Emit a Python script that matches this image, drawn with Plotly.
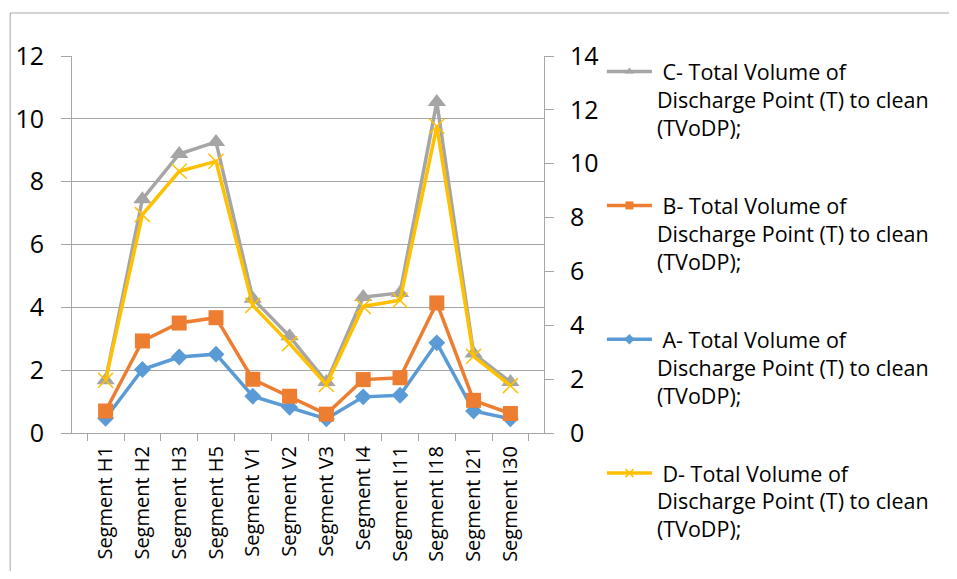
import plotly.graph_objects as go

segments = ["Segment H1", "Segment H2", "Segment H3", "Segment H5", "Segment V1",
            "Segment V2", "Segment V3", "Segment I4", "Segment I11", "Segment I18",
            "Segment I21", "Segment I30"]

# A and B read on the left axis, C and D on the right axis
vol_a = [0.47, 2.02, 2.42, 2.51, 1.17, 0.82, 0.45, 1.15, 1.20, 2.87, 0.70, 0.45]
vol_b = [0.70, 2.93, 3.50, 3.67, 1.71, 1.17, 0.60, 1.70, 1.76, 4.14, 1.04, 0.62]
vol_c = [1.96, 8.68, 10.36, 10.81, 4.99, 3.59, 1.89, 5.05, 5.20, 12.29, 2.95, 1.89]
vol_d = [1.96, 8.11, 9.72, 10.09, 4.74, 3.32, 1.80, 4.70, 4.93, 11.39, 2.85, 1.76]

name_tail = "<br>Discharge Point (T) to clean<br>(TVoDP);"
FONT = "Open Sans, Noto Sans, sans-serif"
GRID = "#a6a6a6"

# series: (key, values, axis, colour, symbol, size, legend rank)
series = [
    ("A", vol_a, "y", "#5B9BD5", "diamond", 13, 3),
    ("B", vol_b, "y", "#ED7D31", "square", 15, 2),
    ("C", vol_c, "y2", "#A5A5A5", "triangle-up", 16, 1),
    ("D", vol_d, "y2", "#FFC000", "x-thin", 15, 4),
]

fig = go.Figure()

for key, vals, ax, col, sym, size, rank in series:
    mk = dict(symbol=sym, size=size, color=col)
    if sym == "x-thin":
        mk["line"] = dict(color=col, width=1.5)
    fig.add_trace(go.Scatter(
        x=segments, y=vals, yaxis=ax, mode="lines+markers",
        line=dict(color=col, width=3.5), marker=mk, showlegend=False))

# legend entries with the small Excel-style markers
for key, vals, ax, col, sym, size, rank in series:
    mk = dict(symbol=sym, size=8, color=col)
    if sym == "x-thin":
        mk["line"] = dict(color=col, width=1.5)
    fig.add_trace(go.Scatter(
        x=[None], y=[None], yaxis=ax, mode="lines+markers",
        name=f"&nbsp;{key}- Total Volume of" + name_tail,
        line=dict(color=col, width=3.5), marker=mk,
        legendrank=rank, legendgroup=key))

# chart frame: only the top and left edges are in the picture
frame = dict(type="line", xref="paper", yref="paper",
             line=dict(color=GRID, width=1), layer="below")

# page body adds 8px, so the figure is kept small enough not to scroll
fig.update_layout(
    width=941, height=563,
    margin=dict(l=64, r=405, t=48, b=138, autoexpand=False),
    paper_bgcolor="white", plot_bgcolor="white",
    font=dict(family=FONT, color="#000000"),
    xaxis=dict(type="category", showgrid=False, showline=True, linecolor=GRID,
               ticks="outside", ticklen=7, tickcolor=GRID, tickson="boundaries",
               tickangle=-90, tickfont=dict(size=20), ticklabelstandoff=4,
               fixedrange=True, automargin=False),
    yaxis=dict(range=[0, 12], dtick=2, showgrid=True, gridcolor=GRID, gridwidth=1,
               showline=True, linecolor=GRID, ticks="outside", ticklen=10,
               tickcolor=GRID, tickfont=dict(size=25), ticklabelstandoff=12,
               zeroline=False, automargin=False),
    yaxis2=dict(range=[0, 14], dtick=2, overlaying="y", side="right", showgrid=False,
                showline=True, linecolor=GRID, ticks="outside", ticklen=9,
                tickcolor=GRID, tickfont=dict(size=25), ticklabelstandoff=11,
                zeroline=False, automargin=False),
    legend=dict(x=1.1227, y=1.013, xanchor="left", yanchor="top",
                font=dict(size=21.5), valign="top", traceorder="grouped",
                tracegroupgap=47, itemwidth=45, maxheight=700,
                bgcolor="rgba(0,0,0,0)"),
    shapes=[
        dict(frame, x0=-0.131, x1=1.9, y0=1.114, y1=1.114),
        dict(frame, x0=-0.131, x1=-0.131, y0=-0.4, y1=1.114),
    ],
)

fig.write_html("out.html")
